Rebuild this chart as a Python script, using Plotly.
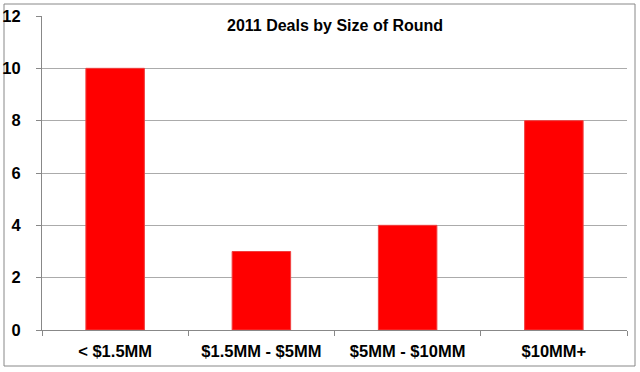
import plotly.graph_objects as go

categories = ["< $1.5MM", "$1.5MM - $5MM", "$5MM - $10MM", "$10MM+"]
deals = [10, 3, 4, 8]
y_ticks = [0, 2, 4, 6, 8, 10, 12]
title_text = "2011 Deals by Size of Round"

L, R, T, B = 42, 13, 16, 42
W, H = 640, 372
pw, ph = W - L - R, H - T - B

fig = go.Figure(go.Bar(
    x=categories, y=deals,
    marker=dict(color="#FF0000", line=dict(color="#F04040", width=1)),
))

fnt = "Liberation Sans, Arial, sans-serif"
fig.update_layout(
    width=W, height=H,
    margin=dict(l=L, r=R, t=T, b=B, autoexpand=False),
    paper_bgcolor="white", plot_bgcolor="white",
    bargap=0.6, showlegend=False,
    font=dict(family=fnt, color="black"),
    xaxis=dict(
        showline=True, linecolor="#888888", linewidth=1,
        ticks="outside", tickson="boundaries", ticklen=5, tickcolor="#888888",
        tickfont=dict(size=16.5, family=fnt, weight="bold"),
        ticklabelstandoff=6, automargin=False,
        showgrid=False,
    ),
    yaxis=dict(
        range=[0, 12], tickvals=y_ticks,
        showline=True, linecolor="#888888", linewidth=1,
        ticks="outside", ticklen=5, tickcolor="#888888",
        showgrid=True, gridcolor="#ABABAB", gridwidth=1,
        zeroline=False, automargin=False,
        tickfont=dict(size=16.5, family=fnt, weight="bold"),
        ticklabelstandoff=12,
    ),
    annotations=[dict(
        text="<b>" + title_text + "</b>", x=0.5, y=(330 - 25) / ph,
        xref="paper", yref="paper",
        showarrow=False, font=dict(size=16, family=fnt),
        xanchor="center", yanchor="middle",
    )],
    shapes=[dict(
        type="rect", xref="paper", yref="paper",
        x0=(4 - L) / pw, x1=(635 - L) / pw,
        y0=(330 - 366) / ph, y1=(330 - 4) / ph,
        line=dict(color="#888888", width=1), fillcolor="rgba(0,0,0,0)", layer="below",
    )],
)

fig.write_html(
    "out.html",
    config={"displayModeBar": False},
    post_script="document.body.style.margin='0';document.body.style.overflow='hidden';",
)
